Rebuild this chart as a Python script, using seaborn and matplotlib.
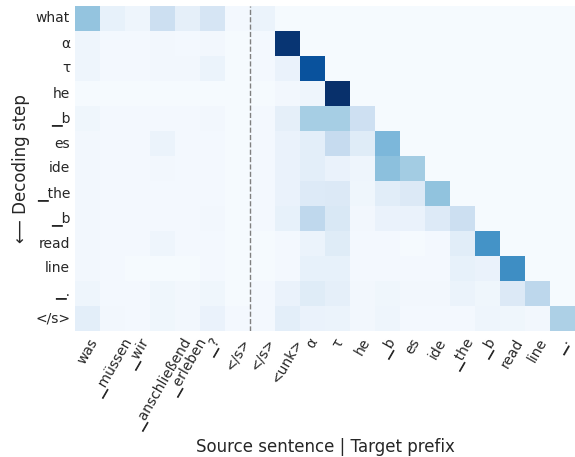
import numpy as np
import pandas as pd
import matplotlib
matplotlib.use("Agg")
import matplotlib.pyplot as plt
import seaborn as sns

# source tokens, then target prefix tokens (columns)
src_tokens = ["was", "▁müssen", "▁wir", "▁anschließend", "▁erleben", "▁?", "</s>"]
prefix_tokens = ["</s>", "<unk>", "α", "τ", "he", "▁b", "es", "ide", "▁the", "▁b",
                 "read", "line", "▁."]
# decoding steps (rows)
steps = ["what", "α", "τ", "he", "▁b", "es", "ide", "▁the", "▁b", "read", "line",
         "▁.", "</s>"]

# attention weights, one row per decoding step
weights = [
    [0.40, 0.08, 0.05, 0.22, 0.09, 0.17, 0.02, 0.06, 0.01, 0.01, 0.01, 0.01, 0.01, 0.01, 0.01, 0.01, 0.01, 0.01, 0.01, 0.01],
    [0.05, 0.02, 0.02, 0.03, 0.02, 0.03, 0.01, 0.02, 0.98, 0.01, 0.01, 0.01, 0.01, 0.01, 0.01, 0.01, 0.01, 0.01, 0.01, 0.01],
    [0.05, 0.02, 0.02, 0.03, 0.03, 0.06, 0.01, 0.02, 0.07, 0.87, 0.01, 0.01, 0.01, 0.01, 0.01, 0.01, 0.01, 0.01, 0.01, 0.01],
    [0.01, 0.01, 0.01, 0.01, 0.01, 0.01, 0.01, 0.01, 0.03, 0.05, 1.00, 0.01, 0.01, 0.01, 0.01, 0.01, 0.01, 0.01, 0.01, 0.01],
    [0.04, 0.02, 0.02, 0.02, 0.02, 0.03, 0.01, 0.02, 0.09, 0.35, 0.35, 0.21, 0.01, 0.01, 0.01, 0.01, 0.01, 0.01, 0.01, 0.01],
    [0.03, 0.02, 0.02, 0.06, 0.02, 0.02, 0.01, 0.02, 0.07, 0.10, 0.25, 0.12, 0.46, 0.01, 0.01, 0.01, 0.01, 0.01, 0.01, 0.01],
    [0.03, 0.02, 0.02, 0.03, 0.02, 0.02, 0.01, 0.02, 0.07, 0.10, 0.07, 0.05, 0.42, 0.36, 0.01, 0.01, 0.01, 0.01, 0.01, 0.01],
    [0.03, 0.02, 0.02, 0.02, 0.02, 0.02, 0.01, 0.02, 0.07, 0.13, 0.14, 0.04, 0.11, 0.14, 0.41, 0.01, 0.01, 0.01, 0.01, 0.01],
    [0.03, 0.02, 0.02, 0.02, 0.02, 0.03, 0.01, 0.02, 0.08, 0.27, 0.15, 0.03, 0.07, 0.07, 0.13, 0.22, 0.01, 0.01, 0.01, 0.01],
    [0.03, 0.02, 0.02, 0.05, 0.02, 0.02, 0.01, 0.01, 0.02, 0.06, 0.12, 0.02, 0.02, 0.01, 0.02, 0.11, 0.62, 0.01, 0.01, 0.01],
    [0.03, 0.02, 0.01, 0.01, 0.01, 0.02, 0.01, 0.01, 0.02, 0.08, 0.08, 0.02, 0.02, 0.02, 0.02, 0.08, 0.07, 0.64, 0.01, 0.01],
    [0.05, 0.02, 0.02, 0.04, 0.03, 0.04, 0.01, 0.02, 0.07, 0.12, 0.09, 0.03, 0.04, 0.03, 0.03, 0.06, 0.04, 0.14, 0.28, 0.01],
    [0.10, 0.03, 0.02, 0.04, 0.03, 0.07, 0.02, 0.02, 0.10, 0.07, 0.06, 0.03, 0.05, 0.02, 0.02, 0.02, 0.05, 0.04, 0.03, 0.33],
]

sns.set_style("white")
plt.rcParams['font.family'] = ['DejaVu Sans']

cols = src_tokens + prefix_tokens
df = pd.DataFrame(np.array(weights), index=steps, columns=cols)

fig = plt.figure(figsize=(5.75, 4.57), dpi=100)
ax = fig.add_axes([75 / 575, 1 - 331 / 457, 500 / 575, 325 / 457])
sns.heatmap(df, cmap="Blues", vmin=0, vmax=1, cbar=False, ax=ax,
            xticklabels=True, yticklabels=True)
# separator between source sentence and target prefix
ax.axvline(len(src_tokens), color="grey", linestyle="--", linewidth=1)

ax.set_xticklabels(cols, rotation=60, fontsize=10, color="#262626")
ax.set_yticklabels(steps, rotation=0, fontsize=10, color="#262626")
ax.tick_params(length=0)
ax.set_xlabel("Source sentence | Target prefix", fontsize=12, color="#262626")
ax.set_ylabel("⟵ Decoding step", fontsize=12, color="#262626")

fig.savefig("out.png", dpi=100)
